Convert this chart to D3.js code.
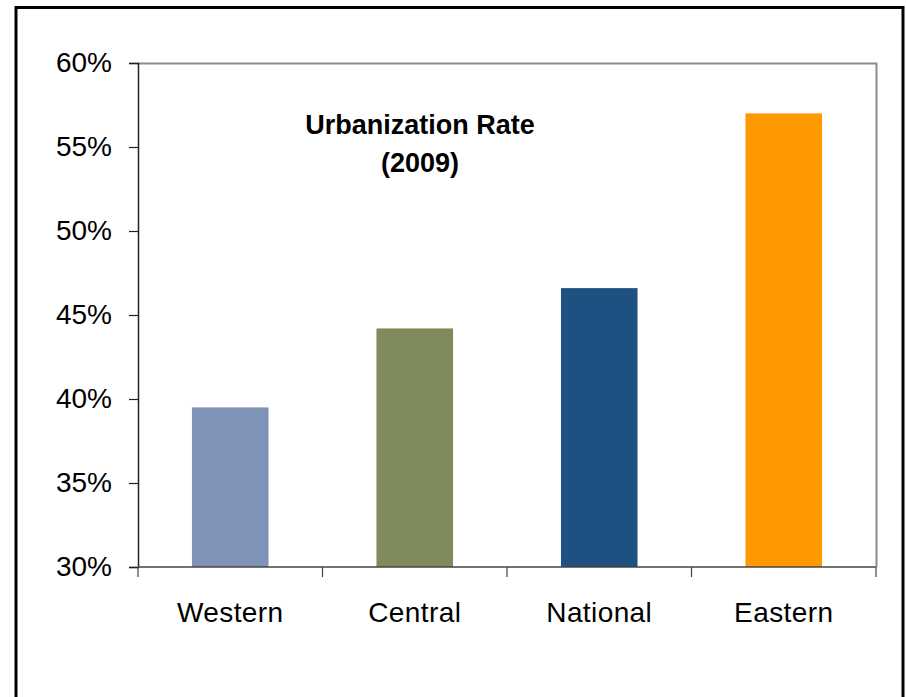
<!DOCTYPE html>
<html>
<head>
<meta charset="utf-8">
<script src="https://cdn.jsdelivr.net/npm/d3@7"></script>
<style>
  html, body { margin: 0; padding: 0; background: #fff; }
  svg { display: block; }
  text { font-family: "Liberation Sans", Arial, sans-serif; }
</style>
</head>
<body>
<svg id="chart" width="906" height="697"></svg>
<script>
// Urbanization rate by region, 2009
const regions = ["Western", "Central", "National", "Eastern"];
const rates = [39.5, 44.2, 46.6, 57.0];
const barColors = ["#7F93B9", "#7F8B5A", "#1F5082", "#FF9900"];
const yTicks = [30, 35, 40, 45, 50, 55, 60];
const titleLines = ["Urbanization Rate", "(2009)"];

const svg = d3.select("#chart");

// outer frame
svg.append("rect")
  .attr("x", 16).attr("y", 7.5)
  .attr("width", 887).attr("height", 700)
  .attr("fill", "none").attr("stroke", "#000").attr("stroke-width", 3);

const plot = { left: 138, top: 63, right: 876, bottom: 567 };

const x = d3.scaleBand()
  .domain(regions)
  .range([plot.left, plot.right])
  .paddingInner(0.585)
  .paddingOuter(0.2925);

const y = d3.scaleLinear()
  .domain([30, 60])
  .range([plot.bottom, plot.top]);

// plot frame (top and right)
svg.append("path")
  .attr("d", `M${plot.left},${plot.top + 0.5}H${plot.right + 0.5}V${plot.bottom}`)
  .attr("fill", "none").attr("stroke", "#8C8C8C").attr("stroke-width", 2);

// bars
svg.append("g").selectAll("rect")
  .data(regions)
  .join("rect")
  .attr("x", d => x(d))
  .attr("width", x.bandwidth())
  .attr("y", (d, i) => y(rates[i]))
  .attr("height", (d, i) => y(30) - y(rates[i]))
  .attr("fill", (d, i) => barColors[i]);

// y axis
const yAxis = svg.append("g")
  .attr("transform", `translate(${plot.left},0)`)
  .call(d3.axisLeft(y).tickValues(yTicks).tickFormat(d => d + "%").tickSize(9).tickPadding(17));
yAxis.select(".domain").attr("stroke", "#222").attr("stroke-width", 1.5);
yAxis.selectAll(".tick line").attr("stroke", "#222").attr("stroke-width", 1.2);
yAxis.selectAll(".tick text")
  .attr("font-size", 28).attr("fill", "#000")
  .attr("font-family", "'Liberation Sans', Arial, sans-serif");

// x axis with ticks at category boundaries
const boundaries = d3.range(regions.length + 1).map(i => plot.left + i * x.step());
const xAxis = svg.append("g").attr("transform", `translate(0,${plot.bottom})`);
xAxis.append("line")
  .attr("x1", plot.left).attr("x2", plot.right)
  .attr("stroke", "#444").attr("stroke-width", 1.5);
xAxis.selectAll("line.tick")
  .data(boundaries)
  .join("line")
  .attr("class", "tick")
  .attr("x1", d => d).attr("x2", d => d)
  .attr("y1", 0).attr("y2", 10)
  .attr("stroke", "#444").attr("stroke-width", 1.2);
xAxis.selectAll("text")
  .data(regions)
  .join("text")
  .attr("x", d => x(d) + x.bandwidth() / 2)
  .attr("y", 55)
  .attr("text-anchor", "middle")
  .attr("font-size", 28)
  .attr("letter-spacing", 0.4)
  .attr("fill", "#000")
  .text(d => d);

// chart title
svg.append("g").selectAll("text")
  .data(titleLines)
  .join("text")
  .attr("x", 420)
  .attr("y", (d, i) => 134 + i * 38)
  .attr("text-anchor", "middle")
  .attr("font-size", 27)
  .attr("font-weight", "bold")
  .attr("fill", "#000")
  .text(d => d);
</script>
</body>
</html>
